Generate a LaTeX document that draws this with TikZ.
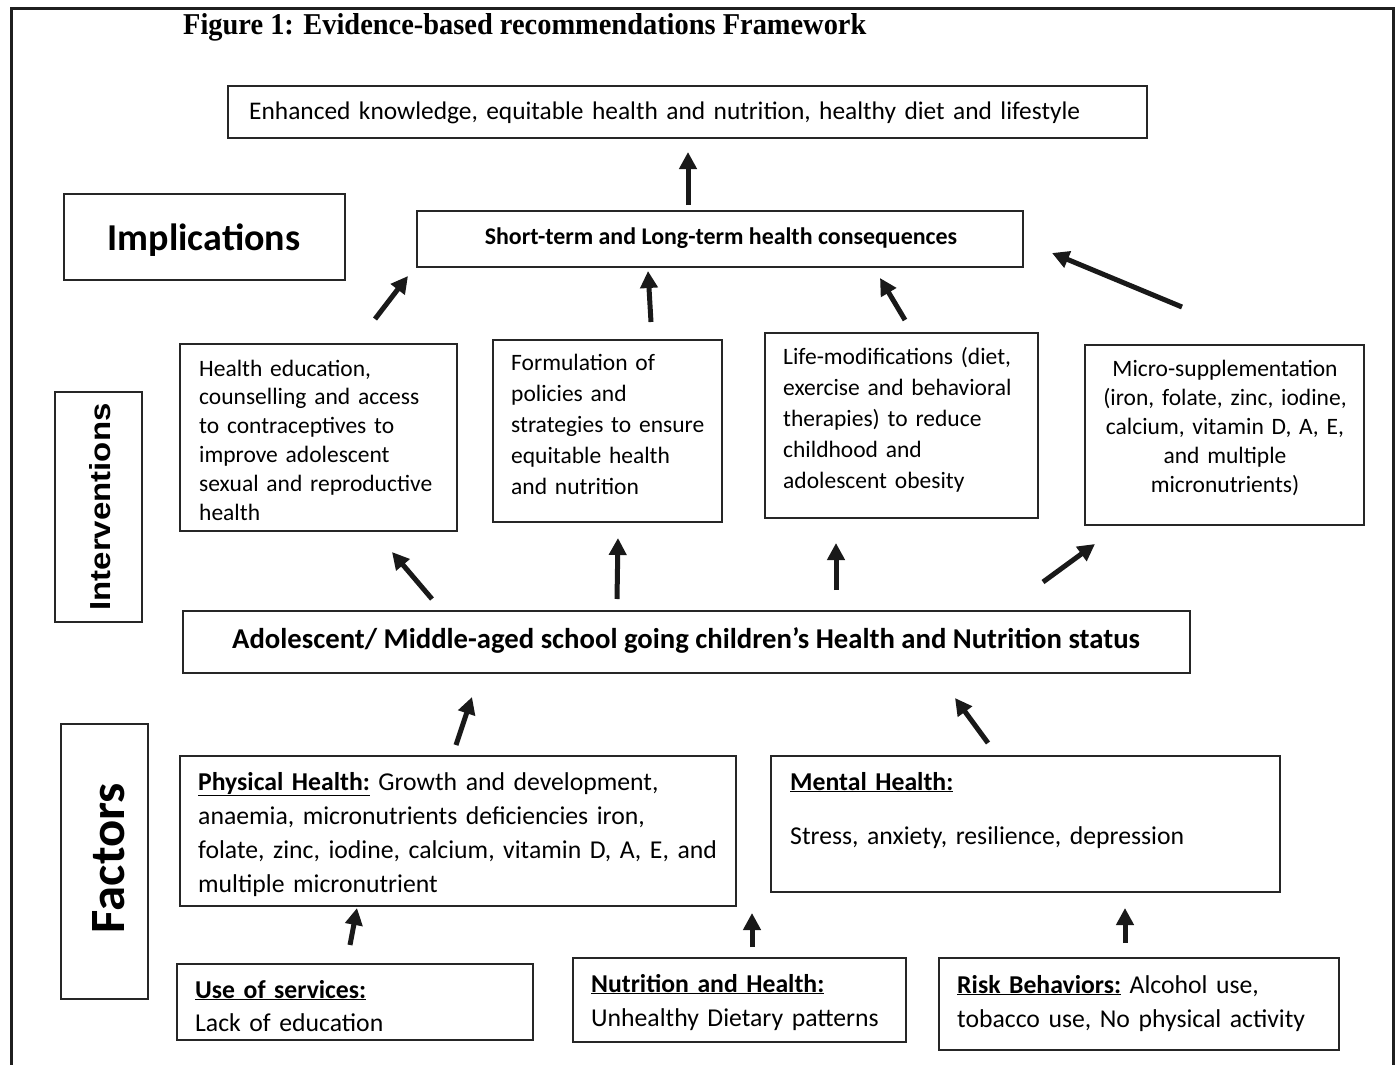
\documentclass[tikz,border=0pt]{standalone}
\usepackage{fontspec}
\setmainfont{Carlito}
\newfontfamily\titlefont{Liberation Serif}
\newfontfamily\arialfont{Liberation Sans}
\usetikzlibrary{arrows.meta,fit}
\begin{document}
\begin{tikzpicture}[x=1pt,y=-1pt,
  box/.style={draw=black!85, line width=1.7pt, inner sep=0pt},
  txt/.style={inner sep=0pt, text width=#1, align=left, anchor=base west},
  ctxt/.style={inner sep=0pt, text width=#1, align=center, anchor=base},
  arr/.style={line width=5pt, draw=black!90, -{Triangle[length=17pt,width=17pt]}},
  reg/.style={font=\fontsize{23.5}{#1}\selectfont},
  big/.style={font=\fontsize{25.7}{#1}\selectfont},
  frame/.style={draw=black!88, line width=3pt}
]
\useasboundingbox (0,0) rectangle (1395,1065);
% outer frame (open at the bottom edge of the picture)
\coordinate (fbl) at (11,1070);
\coordinate (ftl) at (11,8.5);
\coordinate (ftr) at (1393.5,8.5);
\coordinate (fbr) at (1393.5,1070);
\draw[frame] (fbl) -- (ftl) -- (ftr) -- (fbr);

% title
\node[anchor=base west, inner sep=0pt] (title) at (183,35)
  {\resizebox{683pt}{21pt}{\titlefont\bfseries Figure 1: Evidence-based recommendations Framework}};

% boxes
\node[box, fit={(228,86) (1147,138)}] (top) {};
\node[box, fit={(64,194) (345,280)}] (impl) {};
\node[box, fit={(417,211) (1023,267)}] (short) {};
\node[box, fit={(55,392) (142,622)}] (inter) {};
\node[box, fit={(180,344) (457,531)}] (b1) {};
\node[box, fit={(493,340) (722,522)}] (b2) {};
\node[box, fit={(765,333) (1038,518)}] (b3) {};
\node[box, fit={(1085,345) (1364,525)}] (b4) {};
\node[box, fit={(183,611) (1190,673)}] (adol) {};
\node[box, fit={(61,724) (148,999)}] (fact) {};
\node[box, fit={(180,756) (736,906)}] (phys) {};
\node[box, fit={(771,756) (1280,892)}] (ment) {};
\node[box, fit={(177,964) (533,1040)}] (use) {};
\node[box, fit={(573,958) (906,1042)}] (nutr) {};
\node[box, fit={(939,958) (1339,1050)}] (risk) {};

% texts
\node[txt=900pt, font=\fontsize{25.4}{30}\selectfont] (toptxt) at (249,119)
  {Enhanced knowledge, equitable health and nutrition, healthy diet and lifestyle};
\node[anchor=base, inner sep=0pt, font=\fontsize{38}{44}\selectfont\bfseries] (impltxt) at (204,250) {Implications};
\node[anchor=base, inner sep=0pt, font=\fontsize{23.9}{28}\selectfont\bfseries] (shorttxt) at (721,244)
  {Short-term and Long-term health consequences};
\node[inner sep=0pt, rotate=90] (intertxt) at (100,507)
  {\resizebox{207pt}{21pt}{\arialfont\bfseries Interventions}};
\node[inner sep=0pt, rotate=90] (facttxt) at (109,858)
  {\resizebox{150pt}{32pt}{\bfseries Factors}};

\node[txt=260pt, reg=28.8] (b1txt) at (199,376)
  {Health education,\\ counselling and access\\ to contraceptives to\\ improve adolescent\\ sexual and reproductive\\ health};
\node[txt=210pt, reg=31] (b2txt) at (511,370)
  {Formulation of\\ policies and\\ strategies to ensure\\ equitable health\\ and nutrition};
\node[txt=260pt, reg=31] (b3txt) at (783,364)
  {Life-modifications (diet,\\ exercise and behavioral\\ therapies) to reduce\\ childhood and\\ adolescent obesity};
\node[ctxt=270pt, reg=29] (b4txt) at (1225,376)
  {Micro-supplementation\\ (iron, folate, zinc, iodine,\\ calcium, vitamin D, A, E,\\ and multiple\\ micronutrients)};

\node[anchor=base, inner sep=0pt, font=\fontsize{28.7}{32}\selectfont\bfseries] (adoltxt) at (686,648)
  {Adolescent/ Middle-aged school going children’s Health and Nutrition status};

\node[txt=550pt, big=34] (phystxt) at (198,790)
  {\underline{\textbf{Physical Health:}} Growth and development,\\ anaemia, micronutrients deficiencies iron,\\ folate, zinc, iodine, calcium, vitamin D, A, E, and\\ multiple micronutrient};
\node[txt=480pt, big=34] (menttxt) at (790,790)
  {\underline{\textbf{Mental Health:}}\\[20pt] Stress, anxiety, resilience, depression};
\node[txt=340pt, big=33] (usetxt) at (195,998)
  {\underline{\textbf{Use of services:}}\\ Lack of education};
\node[txt=320pt, big=34] (nutrtxt) at (591,992)
  {\underline{\textbf{Nutrition and Health:}}\\ Unhealthy Dietary patterns};
\node[txt=390pt, big=34] (risktxt) at (957,993)
  {\underline{\textbf{Risk Behaviors:}} Alcohol use,\\ tobacco use, No physical activity};

% arrow end points
\coordinate (a1s) at (688,205);  \coordinate (a1e) at (688,152);
\coordinate (a2s) at (375,319);  \coordinate (a2e) at (408,276);
\coordinate (a3s) at (651,322);  \coordinate (a3e) at (648,271);
\coordinate (a4s) at (905,320);  \coordinate (a4e) at (880,278);
\coordinate (a5s) at (1182,307); \coordinate (a5e) at (1052,253);
\coordinate (a6s) at (432,599);  \coordinate (a6e) at (392,552);
\coordinate (a7s) at (617,599);  \coordinate (a7e) at (618,538);
\coordinate (a8s) at (836,590);  \coordinate (a8e) at (836,543);
\coordinate (a9s) at (1043,582); \coordinate (a9e) at (1095,544);
\coordinate (a10s) at (456,745); \coordinate (a10e) at (472,697);
\coordinate (a11s) at (988,743); \coordinate (a11e) at (955,698);
\coordinate (a12s) at (350,945); \coordinate (a12e) at (357,908);
\coordinate (a13s) at (752,947); \coordinate (a13e) at (752,913);
\coordinate (a14s) at (1125,943);\coordinate (a14e) at (1125,908);

\foreach \i in {1,...,14} { \draw[arr] (a\i s) -- (a\i e); }
\end{tikzpicture}
\end{document}
